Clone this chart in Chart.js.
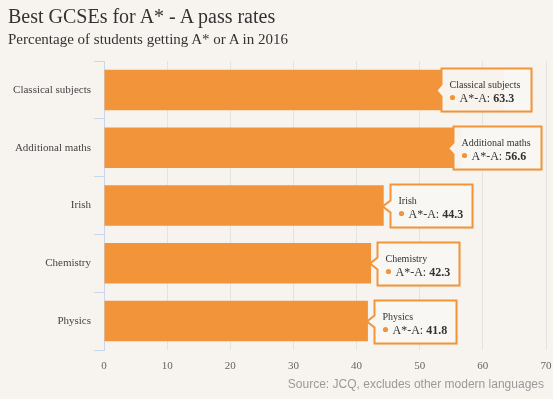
<!DOCTYPE html>
<html>
<head>
<meta charset="utf-8">
<script src="https://cdn.jsdelivr.net/npm/chart.js@4/dist/chart.umd.min.js"></script>
<style>
  html, body { margin: 0; padding: 0; background: #f7f4f0; }
  #wrap { position: relative; width: 553px; height: 399px; overflow: hidden; }
  #title { position: absolute; left: 8px; top: 5px; font: 20px "Liberation Serif", "DejaVu Serif", serif; color: #333; white-space: nowrap; }
  #subtitle { position: absolute; left: 8px; top: 31px; font: 15px "Liberation Serif", "DejaVu Serif", serif; color: #333; white-space: nowrap; }
  #source { position: absolute; right: 9px; top: 377px; font: 12px "Liberation Sans", Arial, sans-serif; color: #999; white-space: nowrap; }
  canvas { position: absolute; left: 0; top: 0; }
</style>
</head>
<body>
<div id="wrap">
  <canvas id="c" width="553" height="399"></canvas>
  <div id="title">Best GCSEs for A* - A pass rates</div>
  <div id="subtitle">Percentage of students getting A* or A in 2016</div>
  <div id="source">Source: JCQ, excludes other modern languages</div>
</div>
<script>
const categories = ["Classical subjects", "Additional maths", "Irish", "Chemistry", "Physics"];
const values = [63.3, 56.6, 44.3, 42.3, 41.8];
const seriesName = "A*-A";
const xTicks = [0, 10, 20, 30, 40, 50, 60, 70];

const ORANGE = "#f2953a";
const SERIF = '"Liberation Serif", "DejaVu Serif", serif';

const calloutPlugin = {
  id: "callouts",
  afterDatasetsDraw(chart) {
    const ctx = chart.ctx;
    const meta = chart.getDatasetMeta(0);
    const area = chart.chartArea;
    meta.data.forEach((bar, i) => {
      const name = categories[i];
      const val = values[i].toFixed(1);
      ctx.save();
      ctx.font = "10px " + SERIF;
      const wName = ctx.measureText(name).width;
      ctx.font = "12px " + SERIF;
      const wLbl = ctx.measureText(seriesName + ": ").width;
      ctx.font = "bold 12px " + SERIF;
      const wVal = ctx.measureText(val).width;
      const w = Math.round(Math.max(wName + 19, 18 + wLbl + wVal + 9));
      const h = 43;
      let tipX = bar.x - 1;
      let left = bar.x + 6;
      const maxRight = area.right - 5;
      if (left + w > maxRight) {
        const over = left + w - maxRight;
        left = left - over - Math.max(0, over - 20) * 0.25;
        tipX = left - 5;
      }
      const cy = Math.round(bar.y) + 0.5;
      const top = Math.round(bar.y - h / 2) + 0.5;
      left = Math.round(left) + 0.5;
      const right = left + w;
      const bottom = top + h;
      ctx.shadowColor = "rgba(0,0,0,0.10)";
      ctx.shadowOffsetX = 1;
      ctx.shadowOffsetY = 1;
      ctx.shadowBlur = 2;
      ctx.beginPath();
      ctx.moveTo(left, top);
      ctx.lineTo(right, top);
      ctx.lineTo(right, bottom);
      ctx.lineTo(left, bottom);
      ctx.lineTo(left, cy + 6);
      ctx.lineTo(tipX, cy);
      ctx.lineTo(left, cy - 6);
      ctx.closePath();
      ctx.fillStyle = "rgba(249,247,243,0.97)";
      ctx.fill();
      ctx.shadowColor = "transparent";
      ctx.lineWidth = 2;
      ctx.lineJoin = "miter";
      ctx.strokeStyle = ORANGE;
      ctx.stroke();
      ctx.fillStyle = "#333";
      ctx.textBaseline = "alphabetic";
      ctx.textAlign = "left";
      ctx.font = "10px " + SERIF;
      ctx.fillText(name, left + 8, top + 19);
      ctx.beginPath();
      ctx.arc(left + 11, top + 29, 2.6, 0, Math.PI * 2);
      ctx.fillStyle = ORANGE;
      ctx.fill();
      ctx.fillStyle = "#333";
      ctx.font = "12px " + SERIF;
      ctx.fillText(seriesName + ": ", left + 18, top + 33);
      ctx.font = "bold 12px " + SERIF;
      ctx.fillText(val, left + 18 + wLbl, top + 33);
      ctx.restore();
    });
  }
};

new Chart(document.getElementById("c"), {
  type: "bar",
  data: {
    labels: categories,
    datasets: [{
      label: seriesName,
      data: values,
      backgroundColor: ORANGE,
      borderWidth: 0,
      barPercentage: 0.7,
      categoryPercentage: 1.0
    }]
  },
  options: {
    indexAxis: "y",
    responsive: false,
    animation: false,
    layout: { padding: { left: 0, top: 61, right: 7, bottom: 0 } },
    plugins: {
      legend: { display: false },
      tooltip: { enabled: false },
      title: { display: false }
    },
    scales: {
      x: {
        min: 0,
        max: 70,
        afterBuildTicks(scale) { scale.ticks = xTicks.map(v => ({ value: v })); },
        afterFit(scale) { scale.height = 49; scale.paddingLeft = 0; scale.paddingRight = 0; },
        grid: { color: "#e3e3e3", drawTicks: false, lineWidth: 1 },
        border: { display: false },
        ticks: {
          padding: 10,
          color: "#666",
          font: { family: SERIF, size: 11 }
        }
      },
      y: {
        afterFit(scale) { scale.width = 104; scale.paddingTop = 0; scale.paddingBottom = 0; },
        grid: { offset: true, drawOnChartArea: false, color: "#ccd6eb", tickLength: 10 },
        border: { display: true, color: "#ccd6eb" },
        ticks: {
          padding: 3,
          color: "#444",
          font: { family: SERIF, size: 11 }
        }
      }
    }
  },
  plugins: [calloutPlugin]
});
</script>
</body>
</html>
